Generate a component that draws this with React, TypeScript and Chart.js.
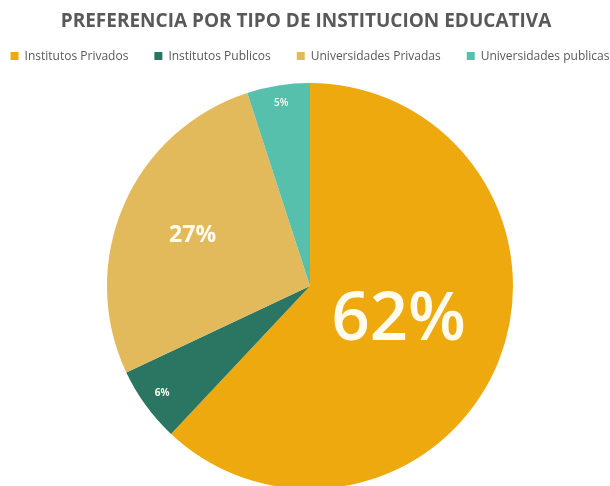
import React, { useEffect, useRef } from "react";
import { Chart, registerables } from "chart.js";

Chart.register(...registerables);

const titleText = "PREFERENCIA POR TIPO DE INSTITUCION EDUCATIVA";
const categories = ["Institutos Privados", "Institutos Publicos", "Universidades Privadas", "Universidades publicas"];
const values = [62, 6, 27, 5];
const colors = ["#EDA90E", "#2B7563", "#E2BA5C", "#56C0AC"];

const labelStyles = [
  { r: 0.47, font: "600 67px 'Open Sans'" },
  { r: 0.9, font: "bold 10px 'Open Sans'" },
  { r: 0.63, font: "bold 23px 'Open Sans'" },
  { r: 0.91, font: "600 10px 'Open Sans'" },
];

const headerPlugin = {
  id: "header",
  afterDraw(chart: any) {
    const ctx = chart.ctx;
    ctx.save();
    ctx.fillStyle = "#595959";
    ctx.textBaseline = "middle";
    ctx.textAlign = "center";
    ctx.font = "bold 19px 'Open Sans'";
    ctx.fillText(titleText, 306, 22);

    ctx.font = "12px 'Open Sans'";
    const box = 8;
    const gapBoxText = 6;
    const gapItems = 26;
    const widths = categories.map((c) => box + gapBoxText + ctx.measureText(c).width);
    const total = widths.reduce((a, b) => a + b, 0) + gapItems * (categories.length - 1);
    let x = 310 - total / 2;
    const y = 56;
    ctx.textAlign = "left";
    categories.forEach((c, i) => {
      ctx.fillStyle = colors[i];
      ctx.fillRect(x, y - box / 2, box, box);
      ctx.fillStyle = "#595959";
      ctx.fillText(c, x + box + gapBoxText, y + 0.5);
      x += widths[i] + gapItems;
    });
    ctx.restore();
  },
};

const sliceLabelPlugin = {
  id: "sliceLabels",
  afterDatasetsDraw(chart: any) {
    const ctx = chart.ctx;
    const meta = chart.getDatasetMeta(0);
    const total = values.reduce((a, b) => a + b, 0);
    ctx.save();
    ctx.fillStyle = "#FFFCEF";
    ctx.textAlign = "center";
    ctx.textBaseline = "middle";
    meta.data.forEach((arc: any, i: number) => {
      const p = arc.getProps(["x", "y", "startAngle", "endAngle", "outerRadius"], true);
      const mid = (p.startAngle + p.endAngle) / 2;
      const r = p.outerRadius * labelStyles[i].r;
      ctx.font = labelStyles[i].font;
      const pct = Math.round((values[i] / total) * 100) + "%";
      ctx.fillText(pct, p.x + Math.cos(mid) * r, p.y + Math.sin(mid) * r);
    });
    ctx.restore();
  },
};

export default function App() {
  const ref = useRef<HTMLCanvasElement | null>(null);
  useEffect(() => {
    document.body.style.margin = "0";
    const chart = new Chart(ref.current as HTMLCanvasElement, {
      type: "pie",
      data: {
        labels: categories,
        datasets: [
          {
            data: values,
            backgroundColor: colors,
            borderWidth: 0,
          },
        ],
      },
      options: {
        animation: false,
        responsive: true,
        maintainAspectRatio: false,
        layout: { padding: { top: 83, left: 10, right: 0, bottom: 11 } },
        plugins: {
          legend: { display: false },
          title: { display: false },
          tooltip: { enabled: false },
        },
      },
      plugins: [headerPlugin, sliceLabelPlugin],
    });
    return () => chart.destroy();
  }, []);
  return (
    <div style={{ width: 610, height: 486, overflow: "hidden", background: "#fff" }}>
      <div style={{ position: "relative", width: 610, height: 500 }}>
        <canvas ref={ref} />
      </div>
    </div>
  );
}
